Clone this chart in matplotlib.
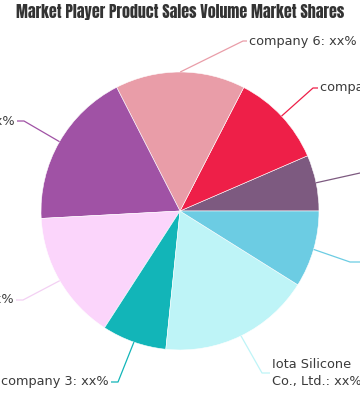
import matplotlib
matplotlib.use("Agg")
import matplotlib.pyplot as plt
import numpy as np

# ---- data ----
companies = ["company 8", "company 7", "company 6", "company 5", "company 4",
             "company 3", "Iota Silicone\nCo., Ltd.", "company 1"]
shares = [6.5, 10.9, 15.1, 18.3, 15.0, 7.5, 17.7, 8.9]
share_text = ["xx%"] * 8
colors = ["#7D5A80", "#EE1F48", "#E99DA8", "#A052A5", "#FBD5FB",
          "#12B5B8", "#BEF4F7", "#6CCCE3"]
title = "Market Player Product Sales Volume Market Shares"

W, H = 360, 400
fig = plt.figure(figsize=(W / 100, H / 100), dpi=100)
ax = fig.add_axes([0, 0, 1, 1])

cx, cy, R = 180, H - 211, 139
wedges, _ = ax.pie(shares, colors=colors, startangle=0, counterclock=True,
                   center=(cx, cy), radius=R, frame=True,
                   wedgeprops=dict(edgecolor="white", linewidth=0.4))
ax.set_xlim(0, W)
ax.set_ylim(0, H)
ax.set_aspect("equal")
ax.axis("off")

# label layout: (elbow x, elbow y (px from top), text x, alignment)
layout = [
    (378, 169, 386, "left"),
    (313, 88, 320, "left"),
    (243, 41, 249, "left"),
    (24, 121, 15, "right"),
    (23, 300, 14, "right"),
    (118, 382, 109, "right"),
    (262, 373, 272, "left"),
    (350, 262, 366, "left"),
]

for w, name, val, col, (ex, ey, tx, ha) in zip(wedges, companies, share_text, colors, layout):
    mid = np.deg2rad((w.theta1 + w.theta2) / 2)
    px = cx + R * np.cos(mid)
    py = cy + R * np.sin(mid)
    ey2 = H - ey
    lc = col if col != "#FBD5FB" else "#F3D0F3"
    ax.plot([px, ex, tx + (-2 if ha == "left" else 2)], [py, ey2, ey2],
            color=lc, lw=0.9, clip_on=True, solid_capstyle="butt")
    ax.text(tx, ey2, f"{name}: {val}", ha=ha, va="center", fontsize=9.3,
            color="#3a3a3a", family=["DejaVu Sans"], linespacing=1.5,
            clip_on=False)

fig.text(0.5, 1 - 12 / H, title, ha="center", va="center", fontsize=11.4,
         color="#333333", family=["Anton", "DejaVu Sans"])

fig.savefig("out.png", dpi=100, facecolor="white")
